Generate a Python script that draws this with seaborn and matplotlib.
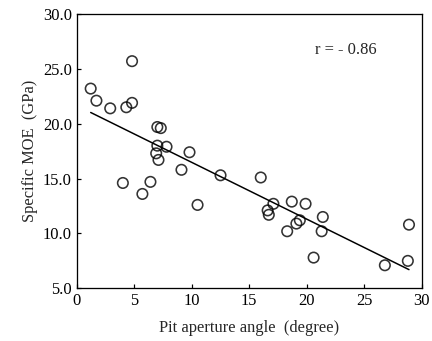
import matplotlib
matplotlib.use("Agg")
import matplotlib.pyplot as plt
import numpy as np
import pandas as pd
import seaborn as sns

# Pit aperture angle (degree) and specific MOE (GPa) per specimen
pit_angle = [1.2, 1.7, 2.9, 4.3, 4.8, 4.8, 7.0, 7.3, 7.0, 7.8, 6.9, 7.1,
             9.8, 9.1, 4.0, 5.7, 6.4, 10.5, 12.5, 16.0, 17.1, 16.6, 16.7,
             18.7, 19.9, 18.3, 19.1, 19.4, 21.4, 21.3, 20.6, 26.8, 28.8, 28.9]
specific_moe = [23.2, 22.1, 21.4, 21.5, 21.9, 25.7, 19.7, 19.6, 18.0, 17.9, 17.3, 16.7,
                17.4, 15.8, 14.6, 13.6, 14.7, 12.6, 15.3, 15.1, 12.7, 12.1, 11.7,
                12.9, 12.7, 10.2, 10.9, 11.2, 11.5, 10.2, 7.8, 7.1, 7.5, 10.8]

x_ticks = [0, 5, 10, 15, 20, 25, 30]
y_ticks = [5.0, 10.0, 15.0, 20.0, 25.0, 30.0]
r_label = "r = - 0.86"

df = pd.DataFrame({"angle": pit_angle, "moe": specific_moe})

sns.set_style("ticks")
plt.rcParams["font.family"] = ["Liberation Serif", "DejaVu Serif"]
plt.rcParams["axes.linewidth"] = 1.3

fig = plt.figure(figsize=(6.0, 341 / 72), dpi=72)
ax = fig.add_axes([0.178, 0.1545, 0.798, 0.8045])

sns.regplot(data=df, x="angle", y="moe", ax=ax, ci=None, truncate=True,
            scatter_kws=dict(s=110, facecolors="none", edgecolors="black", linewidths=1.6),
            line_kws=dict(color="black", linewidth=1.5))

ax.set_xlim(0, 30)
ax.set_ylim(5, 30)
ax.set_xticks(x_ticks)
ax.set_xticklabels([str(t) for t in x_ticks])
ax.set_yticks(y_ticks)
ax.set_yticklabels([f"{t:.1f}" for t in y_ticks])
ax.tick_params(direction="in", length=4, width=1.2, labelsize=16.5, colors="black", pad=5)
for sp in ax.spines.values():
    sp.set_visible(True)
    sp.set_color("black")

ax.set_xlabel("Pit aperture angle  (degree)", fontsize=16.5, labelpad=11)
ax.set_ylabel("Specific MOE  (GPa)", fontsize=16.5, labelpad=5)
ax.text(0.87, 0.869, r_label, transform=ax.transAxes, ha="right", va="center", fontsize=16.5)

fig.savefig("out.png", dpi=72)
